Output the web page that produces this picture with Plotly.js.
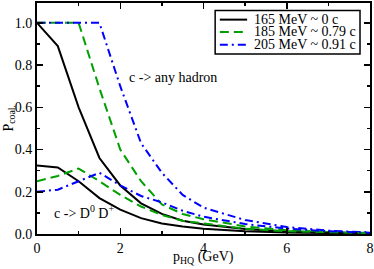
<!DOCTYPE html>
<html>
<head>
<meta charset="utf-8">
<script src="https://cdn.plot.ly/plotly-3.0.1.min.js"></script>
<style>html,body{margin:0;padding:0;background:#fff}#chart{width:374px;height:269px}</style>
</head>
<body>
<div id="chart"></div>
<script>
// momentum grid (GeV)
var pHQ = [0, 0.5, 1, 1.5, 2, 2.5, 3, 3.5, 4, 5, 6, 7, 8];

// c -> any hadron
var anyHadron165 = [1.0, 0.89, 0.60, 0.36, 0.23, 0.145, 0.095, 0.063, 0.045, 0.024, 0.012, 0.006, 0.003];
var anyHadron185 = [1.0, 1.0, 1.0, 0.69, 0.40, 0.25, 0.14, 0.095, 0.07, 0.036, 0.018, 0.009, 0.005];
var anyHadron205 = [1.0, 1.0, 1.0, 1.0, 0.70, 0.43, 0.29, 0.185, 0.125, 0.066, 0.033, 0.016, 0.007];

// c -> D0 D+
var dMeson165 = [0.325, 0.315, 0.25, 0.17, 0.115, 0.075, 0.05, 0.035, 0.025, 0.013, 0.007, 0.004, 0.002];
var dMeson185 = [0.25, 0.275, 0.31, 0.25, 0.185, 0.13, 0.09, 0.063, 0.05, 0.025, 0.013, 0.007, 0.004];
var dMeson205 = [0.20, 0.21, 0.25, 0.29, 0.23, 0.18, 0.15, 0.11, 0.082, 0.047, 0.026, 0.013, 0.006];

var seriesNames = ["165 MeV ~ 0 c", "185 MeV ~ 0.79 c", "205 MeV ~ 0.91 c"];
var xTickVals = [0, 2, 4, 6, 8];
var yTickVals = [0, 0.2, 0.4, 0.6, 0.8, 1.0];
var xTitle = "p<sub>HQ</sub> (GeV)";
var yTitle = "P<sub>coal.</sub>";

var styles = [
  {color: "#000000", width: 2, dash: "solid"},
  {color: "#00a000", width: 2, dash: "9px,5px"},
  {color: "#0000ff", width: 2, dash: "8px,4px,2px,4px"}
];

var traces = [
  {x: pHQ, y: anyHadron165, mode: "lines", line: styles[0], name: seriesNames[0]},
  {x: pHQ, y: anyHadron185, mode: "lines", line: styles[1], name: seriesNames[1]},
  {x: pHQ, y: anyHadron205, mode: "lines", line: styles[2], name: seriesNames[2]},
  {x: pHQ, y: dMeson165, mode: "lines", line: styles[0], name: seriesNames[0]},
  {x: pHQ, y: dMeson185, mode: "lines", line: styles[1], name: seriesNames[1]},
  {x: pHQ, y: dMeson205, mode: "lines", line: styles[2], name: seriesNames[2]}
];

var serif = "'Liberation Serif', 'Times New Roman', 'DejaVu Serif', serif";
var axisCommon = {
  showline: true, linecolor: "#000", linewidth: 2, mirror: "allticks",
  ticks: "inside", ticklen: 6, tickwidth: 1.5, tickcolor: "#000",
  showgrid: false, zeroline: false,
  tickfont: {family: serif, size: 14, color: "#000"}
};

// hand-placed legend box (paper coords of the plot area)
var legendBox = {x0: 0.535, x1: 0.970, y0: 0.779, y1: 0.967};
var legendRowsY = [0.928, 0.8745, 0.8195];
var legendLineX = [0.549, 0.631];
var legendTextX = 0.650;

var shapes = [{type: "rect", xref: "paper", yref: "paper",
  x0: legendBox.x0, x1: legendBox.x1, y0: legendBox.y0, y1: legendBox.y1,
  line: {color: "#000", width: 1.5}, fillcolor: "#fff", layer: "above"}];
var annotations = [
  {x: 2.16, y: 0.74, xref: "x", yref: "y", xanchor: "left", yanchor: "middle",
   text: "c -> any hadron", showarrow: false, font: {family: serif, size: 14, color: "#000"}},
  {x: 0.36, y: 0.104, xref: "x", yref: "y", xanchor: "left", yanchor: "middle",
   text: "c -> D<sup>0</sup> D<sup>+</sup>", showarrow: false, font: {family: serif, size: 14, color: "#000"}},
  {x: 0.5, y: -0.1, xref: "paper", yref: "paper", xanchor: "center", yanchor: "middle",
   text: xTitle, showarrow: false, borderpad: 0, font: {family: serif, size: 14, color: "#000"}},
  {x: -0.084, y: 0.5, xref: "paper", yref: "paper", xanchor: "center", yanchor: "middle",
   textangle: -90, text: yTitle, showarrow: false, borderpad: 0, font: {family: serif, size: 14, color: "#000"}}
];
seriesNames.forEach(function(name, i) {
  shapes.push({type: "line", xref: "paper", yref: "paper",
    x0: legendLineX[0], x1: legendLineX[1], y0: legendRowsY[i], y1: legendRowsY[i],
    line: styles[i], layer: "above"});
  annotations.push({xref: "paper", yref: "paper", x: legendTextX, y: legendRowsY[i],
    xanchor: "left", yanchor: "middle", text: name, showarrow: false, borderpad: 0,
    font: {family: serif, size: 14, color: "#000"}});
});

var layout = {
  width: 374, height: 269,
  margin: {l: 37, r: 4, t: 3, b: 35},
  paper_bgcolor: "#fff", plot_bgcolor: "#fff",
  font: {family: serif, size: 14, color: "#000"},
  showlegend: false,
  xaxis: Object.assign({}, axisCommon, {
    range: [0, 8], tickvals: xTickVals, ticktext: xTickVals.map(String),
    minor: {dtick: 1, ticks: "inside", ticklen: 3, tickwidth: 1.5, tickcolor: "#000"}
  }),
  yaxis: Object.assign({}, axisCommon, {
    range: [0, 1.094], tickvals: yTickVals, ticktext: yTickVals.map(function(v){return v.toFixed(1);}),
    minor: {dtick: 0.1, ticks: "inside", ticklen: 3, tickwidth: 1.5, tickcolor: "#000"}
  }),
  shapes: shapes,
  annotations: annotations
};

Plotly.newPlot("chart", traces, layout, {staticPlot: true, displayModeBar: false});
</script>
</body>
</html>
